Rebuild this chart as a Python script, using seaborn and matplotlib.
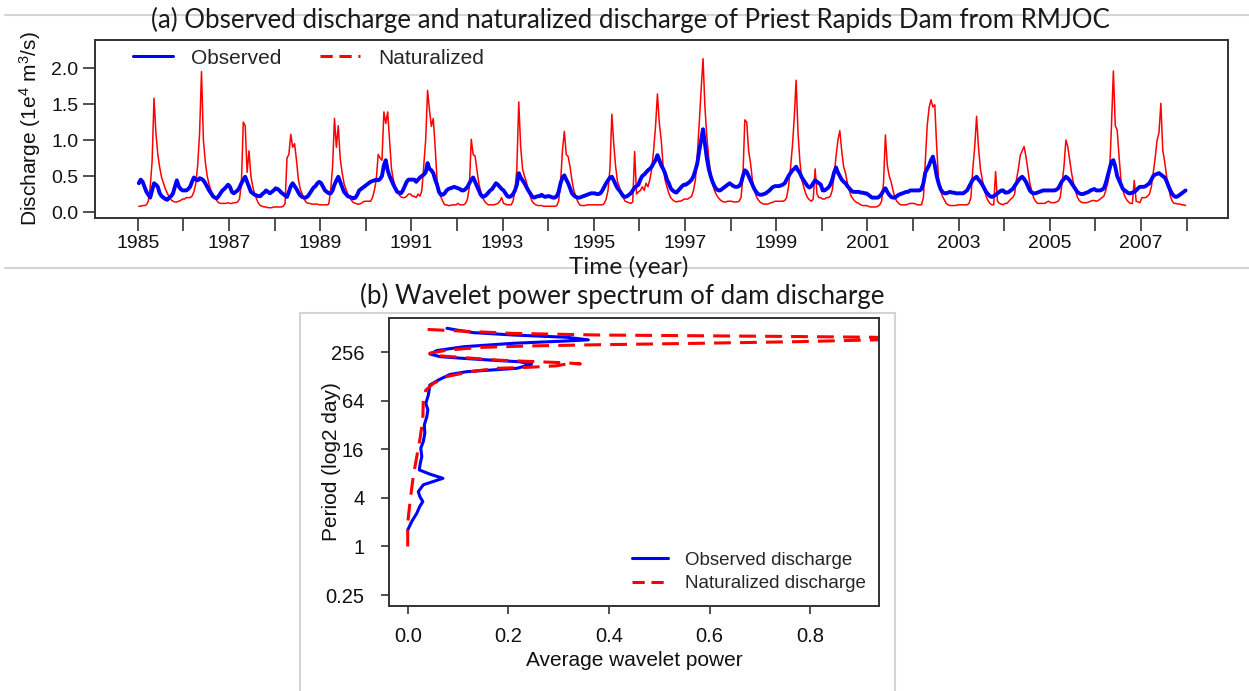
import numpy as np
import pandas as pd
import matplotlib
matplotlib.use("Agg")
import matplotlib.pyplot as plt
import seaborn as sns
from matplotlib.lines import Line2D
from matplotlib.patches import Rectangle
from matplotlib.ticker import NullLocator

sns.set_theme(style="ticks")
plt.rcParams['font.family'] = ['Liberation Sans', 'DejaVu Sans']
plt.rcParams['mathtext.fontset'] = 'custom'
plt.rcParams['mathtext.rm'] = 'Liberation Sans'
plt.rcParams['mathtext.default'] = 'regular'

# ---------------- data: panel (a), half-monthly values (1e4 m3/s) ----------------
years = list(range(1985, 2008))
steps_per_year = 24

naturalized = [
    0.08,0.08,0.09,0.09,0.10,0.15,0.35,0.70,1.58,1.10,0.80,0.62,0.48,0.40,0.32,0.26,0.21,0.17,0.15,0.14,0.14,0.15,0.16,0.18,  # 1985
    0.18,0.2,0.2,0.2,0.22,0.28,0.4,0.65,1.1,1.95,1.0,0.7,0.5,0.38,0.3,0.25,0.2,0.16,0.13,0.12,0.12,0.12,0.12,0.13,          # 1986
    0.12,0.12,0.13,0.13,0.14,0.18,0.4,1.25,1.2,0.55,0.85,0.5,0.35,0.25,0.18,0.12,0.09,0.08,0.07,0.07,0.06,0.06,0.06,0.07,   # 1987
    0.07,0.07,0.07,0.07,0.08,0.12,0.75,0.8,1.08,0.9,0.95,0.72,0.45,0.32,0.25,0.18,0.14,0.12,0.12,0.11,0.11,0.11,0.11,0.1,   # 1988
    0.1,0.1,0.1,0.1,0.11,0.3,0.63,1.3,0.9,1.2,0.75,0.55,0.4,0.32,0.25,0.2,0.16,0.13,0.12,0.11,0.11,0.12,0.14,0.15,          # 1989
    0.15,0.15,0.15,0.2,0.3,0.45,0.8,0.75,0.72,1.39,1.23,1.39,1.0,0.6,0.45,0.35,0.28,0.24,0.21,0.2,0.2,0.22,0.25,0.25,       # 1990
    0.22,0.22,0.2,0.25,0.22,0.3,0.65,1.0,1.69,1.42,1.19,1.3,0.9,0.44,0.3,0.21,0.15,0.1,0.1,0.09,0.09,0.1,0.1,0.1,           # 1991
    0.12,0.1,0.1,0.1,0.12,0.18,0.35,1.01,0.8,0.78,0.58,0.4,0.28,0.2,0.15,0.12,0.1,0.1,0.1,0.1,0.11,0.12,0.15,0.2,           # 1992
    0.12,0.11,0.1,0.1,0.1,0.15,0.3,0.6,1.53,0.91,0.6,0.5,0.42,0.3,0.22,0.15,0.12,0.1,0.09,0.09,0.09,0.08,0.08,0.08,         # 1993
    0.08,0.08,0.08,0.08,0.09,0.15,0.4,0.86,1.12,0.8,0.77,0.63,0.44,0.3,0.22,0.15,0.1,0.09,0.09,0.09,0.1,0.1,0.1,0.1,        # 1994
    0.1,0.1,0.1,0.1,0.1,0.12,0.18,0.3,0.6,1.36,0.95,0.63,0.42,0.35,0.25,0.2,0.15,0.14,0.13,0.12,0.14,0.84,0.25,0.28,        # 1995
    0.3,0.35,0.3,0.4,0.35,0.45,0.6,0.86,1.19,1.64,1.23,1.0,0.63,0.45,0.35,0.26,0.2,0.17,0.15,0.14,0.15,0.15,0.16,0.18,      # 1996
    0.18,0.18,0.2,0.22,0.3,0.45,0.8,1.23,1.7,2.13,1.46,1.05,0.75,0.55,0.4,0.3,0.24,0.2,0.17,0.15,0.14,0.14,0.15,0.15,       # 1997
    0.15,0.14,0.14,0.14,0.15,0.2,0.5,1.28,1.25,0.85,0.68,0.44,0.3,0.22,0.17,0.14,0.12,0.11,0.11,0.11,0.12,0.13,0.14,0.15,   # 1998
    0.15,0.15,0.15,0.15,0.16,0.2,0.35,0.6,0.9,1.3,1.83,1.1,0.7,0.45,0.35,0.26,0.2,0.17,0.15,0.18,0.6,0.25,0.2,0.2,          # 1999
    0.18,0.18,0.2,0.2,0.22,0.3,0.5,0.77,1.0,1.13,0.85,0.63,0.54,0.4,0.3,0.22,0.18,0.15,0.13,0.12,0.1,0.09,0.09,0.09,        # 2000
    0.08,0.07,0.07,0.07,0.07,0.08,0.1,0.15,0.4,1.07,0.65,0.5,0.42,0.3,0.2,0.15,0.12,0.1,0.1,0.1,0.1,0.11,0.12,0.12,         # 2001
    0.12,0.11,0.1,0.1,0.1,0.2,0.7,1.2,1.45,1.56,1.46,1.49,0.9,0.44,0.3,0.22,0.17,0.12,0.1,0.09,0.09,0.09,0.09,0.1,          # 2002
    0.1,0.1,0.1,0.1,0.1,0.12,0.2,0.6,0.9,1.33,0.9,0.6,0.45,0.32,0.22,0.16,0.12,0.1,0.1,0.56,0.15,0.12,0.11,0.1,             # 2003
    0.12,0.12,0.15,0.18,0.2,0.25,0.45,0.6,0.79,0.85,0.91,0.77,0.58,0.4,0.3,0.2,0.15,0.12,0.12,0.12,0.12,0.12,0.14,0.15,     # 2004
    0.13,0.13,0.13,0.14,0.15,0.2,0.4,0.63,1.0,0.91,0.72,0.54,0.4,0.3,0.21,0.16,0.14,0.13,0.13,0.13,0.14,0.15,0.16,0.16,     # 2005
    0.15,0.16,0.18,0.2,0.22,0.3,0.4,0.54,1.2,1.96,1.2,1.14,0.77,0.44,0.3,0.22,0.17,0.14,0.12,0.12,0.44,0.15,0.14,0.13,      # 2006
    0.2,0.2,0.2,0.22,0.25,0.35,0.55,0.75,1.0,1.1,1.51,0.86,0.7,0.5,0.35,0.22,0.15,0.12,0.12,0.11,0.11,0.1,0.1,0.09,         # 2007
]

observed = [
    0.4,0.45,0.42,0.35,0.28,0.24,0.2,0.3,0.4,0.38,0.35,0.26,0.22,0.2,0.18,0.17,0.2,0.22,0.26,0.35,0.44,0.36,0.32,0.3,       # 1985
    0.3,0.3,0.32,0.35,0.42,0.48,0.45,0.44,0.47,0.46,0.44,0.4,0.35,0.3,0.26,0.22,0.2,0.19,0.22,0.26,0.3,0.32,0.35,0.38,      # 1986
    0.35,0.28,0.26,0.28,0.3,0.34,0.4,0.45,0.49,0.42,0.35,0.28,0.26,0.24,0.23,0.22,0.22,0.25,0.27,0.3,0.28,0.26,0.28,0.3,    # 1987
    0.33,0.32,0.3,0.27,0.25,0.23,0.21,0.28,0.36,0.4,0.36,0.32,0.27,0.23,0.21,0.2,0.2,0.22,0.26,0.3,0.34,0.36,0.4,0.42,      # 1988
    0.4,0.35,0.3,0.28,0.26,0.26,0.3,0.38,0.44,0.49,0.42,0.35,0.28,0.25,0.22,0.21,0.2,0.19,0.2,0.24,0.3,0.32,0.34,0.36,      # 1989
    0.38,0.4,0.42,0.43,0.44,0.45,0.44,0.46,0.5,0.65,0.72,0.58,0.5,0.44,0.38,0.33,0.28,0.27,0.26,0.3,0.36,0.42,0.45,0.45,    # 1990
    0.45,0.45,0.42,0.45,0.48,0.5,0.52,0.55,0.68,0.6,0.58,0.54,0.45,0.38,0.28,0.24,0.24,0.26,0.3,0.32,0.33,0.34,0.35,0.34,   # 1991
    0.33,0.32,0.3,0.3,0.32,0.35,0.4,0.45,0.48,0.42,0.36,0.3,0.24,0.21,0.22,0.24,0.27,0.3,0.32,0.36,0.4,0.38,0.35,0.32,      # 1992
    0.3,0.26,0.22,0.21,0.22,0.25,0.3,0.38,0.54,0.48,0.44,0.4,0.35,0.3,0.26,0.22,0.2,0.21,0.22,0.22,0.24,0.22,0.21,0.22,     # 1993
    0.22,0.21,0.2,0.2,0.22,0.28,0.4,0.48,0.51,0.45,0.4,0.33,0.26,0.23,0.21,0.2,0.2,0.21,0.22,0.23,0.24,0.25,0.26,0.26,      # 1994
    0.26,0.25,0.25,0.26,0.3,0.35,0.4,0.44,0.48,0.49,0.44,0.38,0.33,0.3,0.26,0.22,0.21,0.22,0.24,0.26,0.3,0.34,0.36,0.38,    # 1995
    0.45,0.5,0.52,0.55,0.58,0.6,0.63,0.68,0.72,0.79,0.72,0.65,0.6,0.54,0.45,0.4,0.33,0.3,0.28,0.27,0.3,0.33,0.36,0.38,      # 1996
    0.38,0.4,0.42,0.45,0.5,0.58,0.68,0.85,1.0,1.15,0.95,0.75,0.6,0.5,0.42,0.36,0.32,0.3,0.3,0.32,0.34,0.36,0.38,0.4,        # 1997
    0.38,0.36,0.35,0.35,0.36,0.4,0.5,0.58,0.56,0.5,0.44,0.38,0.32,0.28,0.25,0.24,0.24,0.25,0.26,0.28,0.3,0.33,0.35,0.36,    # 1998
    0.36,0.36,0.37,0.38,0.4,0.45,0.5,0.54,0.58,0.6,0.63,0.58,0.54,0.48,0.44,0.4,0.36,0.34,0.36,0.4,0.44,0.42,0.4,0.38,      # 1999
    0.3,0.3,0.32,0.34,0.38,0.45,0.55,0.62,0.55,0.5,0.45,0.42,0.4,0.36,0.33,0.3,0.28,0.28,0.28,0.28,0.27,0.27,0.26,0.26,     # 2000
    0.24,0.22,0.2,0.2,0.2,0.2,0.22,0.25,0.3,0.33,0.28,0.24,0.21,0.2,0.2,0.22,0.24,0.25,0.26,0.27,0.28,0.28,0.3,0.3,         # 2001
    0.3,0.3,0.3,0.3,0.32,0.4,0.55,0.6,0.65,0.72,0.77,0.65,0.5,0.4,0.32,0.28,0.26,0.26,0.27,0.28,0.27,0.27,0.26,0.26,        # 2002
    0.26,0.26,0.26,0.28,0.3,0.35,0.4,0.45,0.47,0.49,0.45,0.42,0.38,0.33,0.28,0.25,0.22,0.21,0.22,0.24,0.26,0.28,0.3,0.3,    # 2003
    0.27,0.27,0.28,0.3,0.32,0.36,0.4,0.44,0.47,0.49,0.46,0.42,0.36,0.3,0.27,0.26,0.26,0.27,0.28,0.29,0.3,0.3,0.3,0.3,       # 2004
    0.3,0.3,0.3,0.31,0.33,0.38,0.43,0.46,0.49,0.47,0.44,0.4,0.36,0.32,0.28,0.26,0.25,0.25,0.26,0.27,0.28,0.3,0.31,0.32,     # 2005
    0.3,0.3,0.3,0.31,0.33,0.4,0.5,0.6,0.7,0.72,0.63,0.5,0.44,0.38,0.32,0.3,0.28,0.26,0.26,0.27,0.28,0.3,0.33,0.35,         # 2006
    0.35,0.35,0.36,0.38,0.4,0.45,0.5,0.52,0.53,0.54,0.52,0.5,0.48,0.43,0.36,0.3,0.25,0.22,0.21,0.22,0.24,0.26,0.28,0.3,     # 2007
]

time_years = [y + (k + 0.5) / steps_per_year for y in years for k in range(steps_per_year)]

# ---------------- data: panel (b), average wavelet power vs period (days) ----------------
obs_period = [1.6, 2.04, 2.58, 3.14, 3.6, 4.17, 4.79, 5.82, 7.0, 7.9, 8.9, 10.8, 13.0, 16.6, 20.0,
              25.5, 32.2, 40.8, 49.5, 59.7, 75.6, 100.4, 116, 136, 147, 154, 162, 182, 195, 205,
              215, 226, 244, 269, 300, 331, 352, 365, 393, 419, 449, 484, 508]
obs_power = [0.0, 0.008, 0.018, 0.024, 0.030, 0.024, 0.021, 0.031, 0.070, 0.044, 0.023, 0.025, 0.028, 0.026, 0.031,
             0.034, 0.033, 0.038, 0.040, 0.036, 0.041, 0.044, 0.061, 0.084, 0.117, 0.164, 0.217, 0.246, 0.223, 0.164,
             0.111, 0.064, 0.044, 0.058, 0.111, 0.210, 0.309, 0.359, 0.316, 0.210, 0.130, 0.097, 0.078]

nat_period = [1.0, 1.95, 3.8, 7.4, 13, 21, 37, 66, 87, 105, 128, 147, 162, 167, 174, 187, 184,
              190, 197, 205, 220, 231, 249, 272, 294, 307, 315, 331, 347, 365, 377, 393, 405, 419, 439, 468, 495]
nat_power = [0.0, 0.0, 0.005, 0.011, 0.018, 0.024, 0.030, 0.031, 0.036, 0.051, 0.078, 0.124, 0.177, 0.243, 0.296, 0.323, 0.343,
             0.31, 0.243, 0.177, 0.11, 0.064, 0.044, 0.078, 0.143, 0.243, 0.343, 0.581, 0.78, 0.93, 0.96, 0.93, 0.7, 0.382, 0.21, 0.11, 0.028]

# ---------------- figure ----------------
W, H = 1249, 691
fig = plt.figure(figsize=(W / 100, H / 100), dpi=100)
fig.patch.set_facecolor('white')


def px_axes(l, t, r, b):
    return fig.add_axes([l / W, 1 - b / H, (r - l) / W, (b - t) / H])


GREY = '#d4d4d4'
DARK = '#333333'
title_font = ['Lato', 'DejaVu Sans']

# frame lines of the composite
fig.add_artist(Line2D([5 / W, 1], [1 - 15 / H] * 2, color=GREY, lw=1.5, transform=fig.transFigure))
fig.add_artist(Line2D([5 / W, 1], [1 - 268 / H] * 2, color=GREY, lw=1.5, transform=fig.transFigure))
fig.add_artist(Rectangle((300 / W, -0.01), (895 - 300) / W, (691 - 313) / H + 0.01, fill=False,
                         edgecolor=GREY, lw=1.5, transform=fig.transFigure))

# ---------- panel (a) ----------
ax1 = px_axes(95, 40, 1228, 218)
df_a = pd.DataFrame({'time': time_years, 'Observed': observed, 'Naturalized': naturalized})
sns.lineplot(data=df_a, x='time', y='Naturalized', ax=ax1, color='#ff0000', lw=1.1, estimator=None)
sns.lineplot(data=df_a, x='time', y='Observed', ax=ax1, color='#0000ff', lw=2.8, estimator=None)
ax1.set_xlim(1984.06, 2008.91)
ax1.set_ylim(-0.083, 2.39)
ax1.set_xticks(list(range(1985, 2009)))
ax1.set_xticklabels([str(y) if y % 2 == 1 else '' for y in range(1985, 2009)])
ax1.set_yticks([0, 0.5, 1.0, 1.5, 2.0])
ax1.set_yticklabels(['0.0', '0.5', '1.0', '1.5', '2.0'])
ax1.set_xlabel('')
ax1.set_ylabel('')
ax1.tick_params(axis='both', direction='out', length=9, width=1.2, color=DARK, labelsize=14,
                labelcolor='#111111', pad=3)
for s in ax1.spines.values():
    s.set_visible(True)
    s.set_color(DARK)
    s.set_linewidth(1.4)
h_obs = Line2D([], [], color='#0000ff', lw=2.2)
h_nat = Line2D([], [], color='#ff0000', lw=2.2, ls=(0, (4, 2.2)))
ax1.legend([h_obs, h_nat], ['Observed', 'Naturalized'], ncol=2, frameon=False, fontsize=15,
           loc='center left', bbox_to_anchor=((133 - 95) / 1133, 1 - (58 - 40) / 178),
           borderpad=0, borderaxespad=0, handlelength=1.92, handletextpad=0.87, columnspacing=1.83)

fig.text(630 / W, 1 - 20 / H, '(a) Observed discharge and naturalized discharge of Priest Rapids Dam from RMJOC',
         ha='center', va='center', fontsize=18.6, family=title_font, color='#1a1a1a')
fig.text(629 / W, 1 - 267 / H, 'Time (year)', ha='center', va='center', fontsize=17.6,
         family=title_font, color='#1a1a1a')
fig.text(30 / W, 1 - 129 / H, 'Discharge (1e$^4$ m$^3$/s)', rotation=90, ha='center', va='center',
         fontsize=15, color='#111111')

# ---------- panel (b) ----------
ax2 = px_axes(389.3, 318.3, 878.7, 605.7)
df_obs = pd.DataFrame({'power': obs_power, 'period': obs_period})
df_nat = pd.DataFrame({'power': nat_power, 'period': nat_period})
sns.lineplot(data=df_obs, x='power', y='period', sort=False, estimator=None, ax=ax2,
             color='#0000ff', lw=2.2)
sns.lineplot(data=df_nat, x='power', y='period', sort=False, estimator=None, ax=ax2,
             color='#ff0000', lw=2.2)
ax2.lines[-1].set_linestyle((0, (5.5, 3)))
ax2.set_yscale('log', base=2)
ax2.set_xlim(-0.0366, 0.936)
ax2.set_ylim(2 ** -2.44, 2 ** 9.40)
ax2.set_yticks([0.25, 1, 4, 16, 64, 256])
ax2.set_yticklabels(['0.25', '1', '4', '16', '64', '256'])
ax2.yaxis.set_minor_locator(NullLocator())
ax2.set_xticks([0, 0.2, 0.4, 0.6, 0.8])
ax2.set_xticklabels(['0.0', '0.2', '0.4', '0.6', '0.8'])
ax2.set_xlabel('')
ax2.set_ylabel('')
ax2.tick_params(axis='both', direction='out', length=6, width=1.2, color=DARK, labelsize=14.5,
                labelcolor='#111111')
ax2.tick_params(axis='y', pad=12)
ax2.tick_params(axis='x', pad=9)
for s in ax2.spines.values():
    s.set_visible(True)
    s.set_color(DARK)
    s.set_linewidth(1.4)
h_obs2 = Line2D([], [], color='#0000ff', lw=2.2)
h_nat2 = Line2D([], [], color='#ff0000', lw=2.2, ls=(0, (4, 2.2)))
ax2.legend([h_obs2, h_nat2], ['Observed discharge', 'Naturalized discharge'], frameon=False, fontsize=13.5,
           loc='center left', bbox_to_anchor=((632 - 389.3) / 489.4, (605.7 - 572) / 287.4),
           borderpad=0, borderaxespad=0, handlelength=1.92, handletextpad=0.9, labelspacing=0.35)

fig.text(622 / W, 1 - 296 / H, '(b) Wavelet power spectrum of dam discharge', ha='center', va='center',
         fontsize=18.6, family=title_font, color='#1a1a1a')
fig.text(634 / W, 1 - 661 / H, 'Average wavelet power', ha='center', va='center', fontsize=15,
         color='#111111')
fig.text(331 / W, 1 - 462 / H, 'Period (log2 day)', rotation=90, ha='center', va='center', fontsize=15,
         color='#111111')

fig.savefig('out.png', dpi=100, facecolor='white')
